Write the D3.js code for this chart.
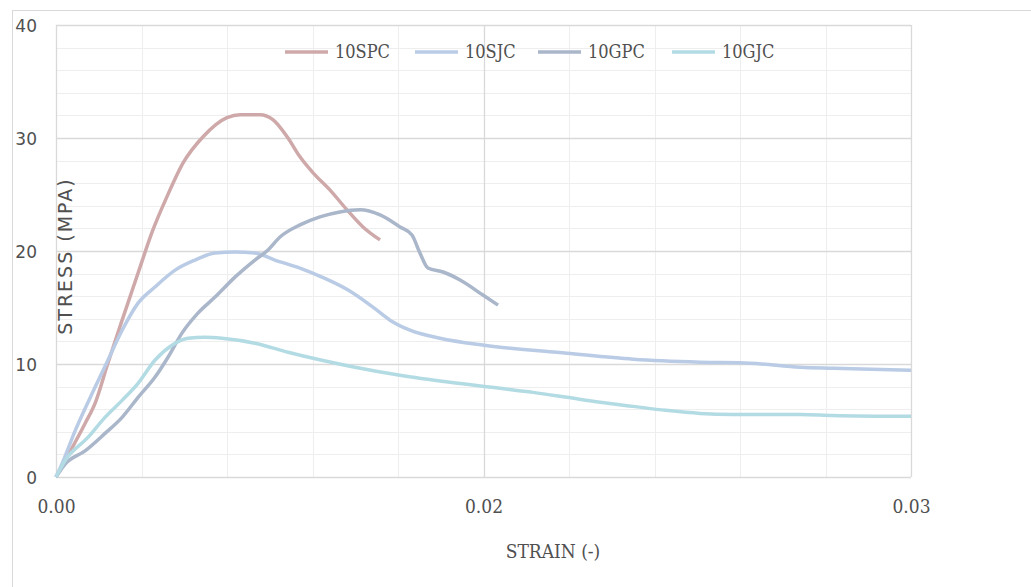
<!DOCTYPE html>
<html>
<head>
<meta charset="utf-8">
<script src="https://cdn.jsdelivr.net/npm/d3@7"></script>
<style>
  body { margin: 0; background: #fff; }
  .serif { font-family: "DejaVu Serif Condensed", "DejaVu Serif", serif; font-stretch: condensed; fill: #505050; }
  .sans { font-family: "DejaVu Sans", "Liberation Sans", sans-serif; fill: #505050; }
</style>
</head>
<body>
<div id="chart"></div>
<script>
// series names and colours
const seriesNames = ["10SPC", "10SJC", "10GPC", "10GJC"];
const seriesColors = ["#cfa9aa", "#b9cbe5", "#aab6ca", "#b3dbe4"];

// [strain, stress]
const spc = [
  [0, 0], [0.00032, 1.46], [0.00102, 4.74], [0.00137, 6.52], [0.00182, 10.07],
  [0.00232, 13.88], [0.00288, 18.05], [0.0034, 21.86], [0.00389, 24.79], [0.00446, 27.8],
  [0.00516, 30.11], [0.006, 31.8], [0.00646, 32.06], [0.00716, 32.06], [0.00761, 31.62],
  [0.00811, 30.11], [0.00856, 28.34], [0.00902, 26.92], [0.00961, 25.41], [0.01021, 23.64],
  [0.01077, 22.13], [0.01137, 20.98]
];
const sjc = [
  [0, 0], [0.00021, 1.15], [0.00067, 4.08], [0.00137, 7.94], [0.00182, 10.33],
  [0.00232, 12.99], [0.00288, 15.39], [0.00347, 16.81], [0.00418, 18.31], [0.00488, 19.2],
  [0.00558, 19.82], [0.00628, 19.91], [0.00698, 19.82], [0.00768, 19.2], [0.00856, 18.49],
  [0.00933, 17.69], [0.01025, 16.54], [0.01112, 15.03], [0.01172, 13.88], [0.01242, 12.99],
  [0.01347, 12.28], [0.01502, 11.66], [0.01793, 10.95], [0.02025, 10.42], [0.0226, 10.16],
  [0.02435, 10.07], [0.02611, 9.71], [0.02726, 9.62], [0.03, 9.45]
];
const gpc = [
  [0, 0], [0.00032, 1.15], [0.00102, 2.31], [0.00172, 3.86], [0.00232, 5.28],
  [0.00288, 7.05], [0.00347, 8.82], [0.00393, 10.6], [0.00442, 12.73], [0.00498, 14.5],
  [0.00558, 15.92], [0.00628, 17.69], [0.00698, 19.2], [0.00744, 20.09], [0.00786, 21.24],
  [0.00856, 22.31], [0.00926, 23.02], [0.00996, 23.46], [0.01067, 23.64], [0.01137, 23.19],
  [0.01207, 22.13], [0.01249, 21.42], [0.01277, 19.82], [0.01305, 18.49], [0.01358, 18.14],
  [0.01418, 17.43], [0.01498, 16.1], [0.01551, 15.21]
];
const gjc = [
  [0, 0], [0.00032, 1.46], [0.00112, 3.5], [0.00172, 5.28], [0.00232, 6.78],
  [0.00288, 8.29], [0.00347, 10.33], [0.00407, 11.66], [0.00463, 12.28], [0.00523, 12.37],
  [0.00582, 12.28], [0.00698, 11.84], [0.00814, 11.04], [0.00933, 10.33], [0.01049, 9.71],
  [0.01207, 9.0], [0.01382, 8.38], [0.01558, 7.85], [0.01674, 7.49], [0.01793, 7.05],
  [0.01909, 6.61], [0.02025, 6.25], [0.0214, 5.9], [0.0226, 5.63], [0.02375, 5.54],
  [0.02611, 5.54], [0.02726, 5.45], [0.03, 5.37]
];
const allSeries = [spc, sjc, gpc, gjc];

// axis ticks
const xMajorTicks = [0, 0.015, 0.03];
const xTickLabels = ["0.00", "0.02", "0.03"];
const xMinorTicks = d3.range(0, 0.0301, 0.003);
const yMajorTicks = [0, 10, 20, 30, 40];
const yMinorTicks = d3.range(0, 40.1, 2);

const width = 1031, height = 587;
const margin = { top: 25, right: 120, bottom: 110, left: 56 };
const innerW = width - margin.left - margin.right;
const innerH = height - margin.top - margin.bottom;

const svg = d3.select("#chart").append("svg")
  .attr("width", width)
  .attr("height", height);

// outer chart border (only left and top fall inside the picture)
svg.append("rect")
  .attr("x", 12.5).attr("y", 10.5)
  .attr("width", 1100).attr("height", 700)
  .attr("fill", "none").attr("stroke", "#d9d9d9");

const g = svg.append("g")
  .attr("transform", "translate(" + margin.left + "," + margin.top + ")");

const x = d3.scaleLinear().domain([0, 0.03]).range([0, innerW]);
const y = d3.scaleLinear().domain([0, 40]).range([innerH, 0]);

// minor grid
g.selectAll(".ygrid-minor").data(yMinorTicks).enter().append("line")
  .attr("x1", 0).attr("x2", innerW)
  .attr("y1", d => Math.round(y(d)) + 0.5).attr("y2", d => Math.round(y(d)) + 0.5)
  .attr("stroke", "#eeeeee");
g.selectAll(".xgrid-minor").data(xMinorTicks).enter().append("line")
  .attr("y1", 0).attr("y2", innerH)
  .attr("x1", d => Math.round(x(d)) + 0.5).attr("x2", d => Math.round(x(d)) + 0.5)
  .attr("stroke", "#eeeeee");

// major grid
g.selectAll(".ygrid").data(yMajorTicks).enter().append("line")
  .attr("x1", 0).attr("x2", innerW)
  .attr("y1", d => Math.round(y(d)) + 0.5).attr("y2", d => Math.round(y(d)) + 0.5)
  .attr("stroke", "#d9d9d9").attr("stroke-width", 1.3);
g.selectAll(".xgrid").data(xMajorTicks).enter().append("line")
  .attr("y1", 0).attr("y2", innerH)
  .attr("x1", d => Math.round(x(d)) + 0.5).attr("x2", d => Math.round(x(d)) + 0.5)
  .attr("stroke", "#d9d9d9").attr("stroke-width", 1.3);

// axes (labels only)
const yAxis = g.append("g")
  .call(d3.axisLeft(y).tickValues(yMajorTicks).tickSize(0).tickPadding(19).tickFormat(d3.format("d")));
yAxis.select(".domain").remove();
yAxis.selectAll("text").attr("class", "sans").attr("font-size", 17).attr("dy", "0.4em");

const xAxis = g.append("g")
  .attr("transform", "translate(0," + innerH + ")")
  .call(d3.axisBottom(x).tickValues(xMajorTicks).tickSize(0).tickPadding(23)
    .tickFormat((d, i) => xTickLabels[i]));
xAxis.select(".domain").remove();
xAxis.selectAll("text").attr("class", "serif").attr("font-size", 19);

// axis titles
g.append("text")
  .attr("class", "sans")
  .attr("transform", "rotate(-90)")
  .attr("x", -(256 - margin.top))
  .attr("y", 65 - margin.left)
  .attr("dy", "0.35em")
  .attr("text-anchor", "middle")
  .attr("font-size", 19)
  .attr("letter-spacing", 2)
  .text("STRESS (MPA)");

g.append("text")
  .attr("class", "serif")
  .attr("x", 553 - margin.left)
  .attr("y", 551 - margin.top)
  .attr("dy", "0.35em")
  .attr("text-anchor", "middle")
  .attr("font-size", 19)
  .text("STRAIN (-)");

// lines
const line = d3.line()
  .x(d => x(d[0]))
  .y(d => y(d[1]))
  .curve(d3.curveMonotoneX);

g.selectAll(".series").data(allSeries).enter().append("path")
  .attr("fill", "none")
  .attr("stroke", (d, i) => seriesColors[i])
  .attr("stroke-width", 3.5)
  .attr("stroke-linejoin", "round")
  .attr("d", line);

// legend
const legendX = [285, 415, 538, 672];
const legend = svg.append("g").attr("transform", "translate(0,52)");
seriesNames.forEach((name, i) => {
  const item = legend.append("g").attr("transform", "translate(" + legendX[i] + ",0)");
  item.append("line")
    .attr("x1", 0).attr("x2", 43)
    .attr("y1", 0).attr("y2", 0)
    .attr("stroke", seriesColors[i])
    .attr("stroke-width", 3.5);
  item.append("text")
    .attr("class", "serif")
    .attr("x", 50)
    .attr("dy", "0.35em")
    .attr("font-size", 18)
    .text(name);
});
</script>
</body>
</html>
